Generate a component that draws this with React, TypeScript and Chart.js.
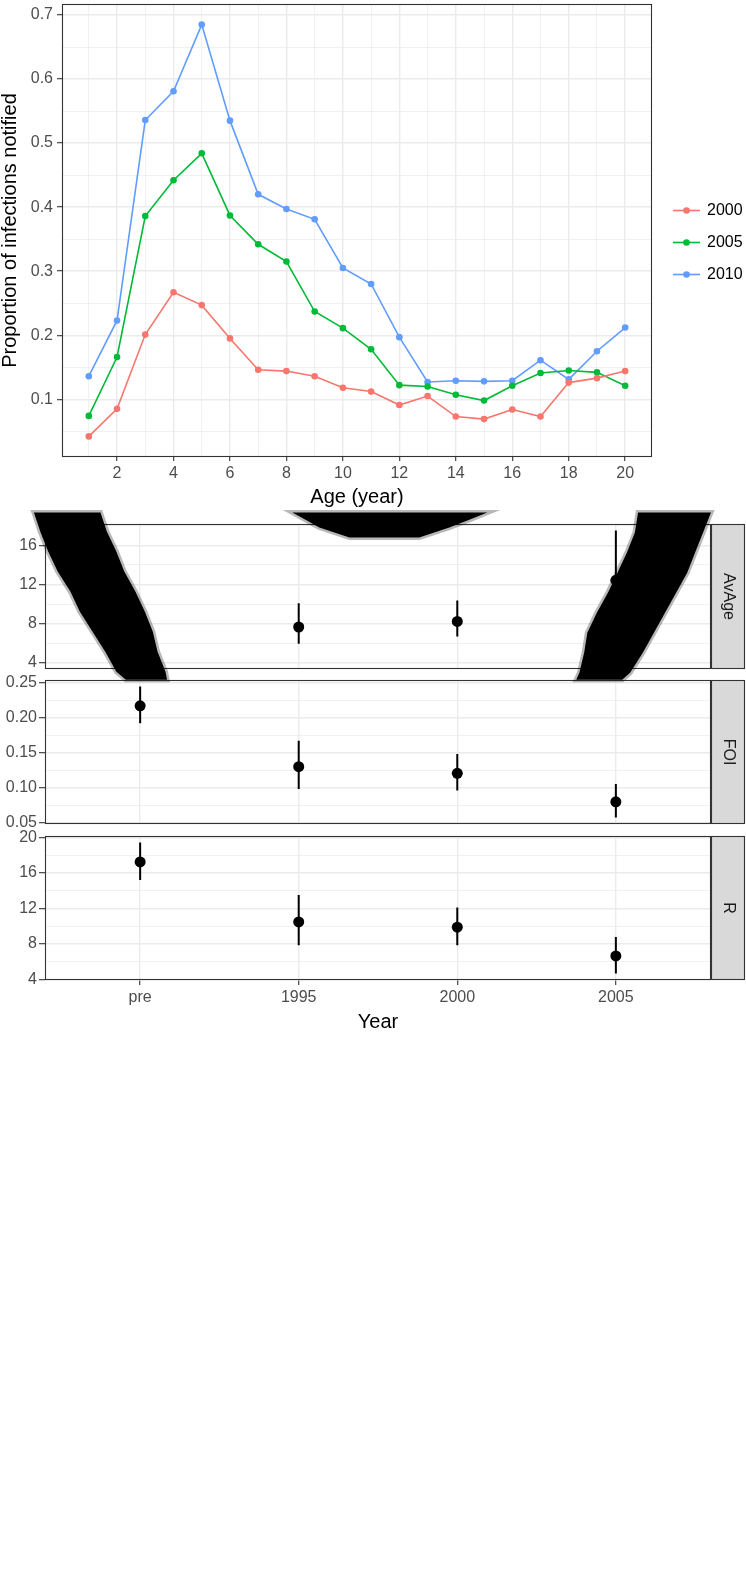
import React, { useEffect, useRef } from 'react';
import { Chart, registerables } from 'chart.js';

Chart.register(...registerables);

const FONT_FAMILY = '"Liberation Sans", Arial, Helvetica, sans-serif';
Chart.defaults.font.family = FONT_FAMILY;

// ---------------- Top panel data ----------------
const ages = [1, 2, 3, 4, 5, 6, 7, 8, 9, 10, 11, 12, 13, 14, 15, 16, 17, 18, 19, 20];
const notified2000 = [0.042, 0.085, 0.201, 0.267, 0.247, 0.195, 0.146, 0.144, 0.136, 0.118, 0.112, 0.091, 0.105, 0.073, 0.069, 0.084, 0.073, 0.126, 0.133, 0.144];
const notified2005 = [0.074, 0.166, 0.386, 0.442, 0.484, 0.387, 0.342, 0.315, 0.237, 0.211, 0.178, 0.122, 0.120, 0.107, 0.098, 0.121, 0.141, 0.145, 0.142, 0.121];
const notified2010 = [0.136, 0.223, 0.536, 0.581, 0.685, 0.535, 0.420, 0.397, 0.381, 0.305, 0.280, 0.197, 0.127, 0.129, 0.128, 0.129, 0.161, 0.131, 0.175, 0.212];
const seriesLabels = ['2000', '2005', '2010'];
const seriesColors = ['#F8766D', '#00BA38', '#619CFF'];
const ageMajorTicks = [2, 4, 6, 8, 10, 12, 14, 16, 18, 20];
const ageMinorTicks = [1, 3, 5, 7, 9, 11, 13, 15, 17, 19];
const propMajorTicks = [0.1, 0.2, 0.3, 0.4, 0.5, 0.6, 0.7];
const propMinorTicks = [0.05, 0.15, 0.25, 0.35, 0.45, 0.55, 0.65];

// ---------------- Facet data ----------------
const yearLabels = ['pre', '1995', '2000', '2005'];
const avAgeEst = [4.8, 7.67, 8.24, 12.43];
const avAgeLo = [4.06, 5.97, 6.71, 7.5];
const avAgeHi = [5.6, 10.1, 10.36, 17.5];
const foiEst = [0.2175, 0.1306, 0.1211, 0.0804];
const foiLo = [0.1924, 0.0985, 0.0966, 0.058];
const foiHi = [0.245, 0.1677, 0.1487, 0.1057];
const rEst = [17.22, 10.49, 9.89, 6.67];
const rLo = [15.19, 7.86, 7.86, 4.7];
const rHi = [19.4, 13.52, 12.11, 8.78];
const avAgeMajor = [4, 8, 12, 16];
const avAgeMinor = [2, 6, 10, 14, 18];
const foiMajor = [0.05, 0.1, 0.15, 0.2, 0.25];
const foiMinor = [0.075, 0.125, 0.175, 0.225];
const rMajor = [4, 8, 12, 16, 20];
const rMinor = [2, 6, 10, 14, 18];

// black artefact shapes over the AvAge panel (in AvAge panel data units)
const blobLeftX = [-0.67, -0.63, -0.58, -0.52, -0.44, -0.38, -0.30, -0.22, -0.15, -0.09, 0.17, 0.16, 0.11, 0.08, 0.03, -0.03, -0.10, -0.15, -0.21, -0.25];
const blobLeftY = [19.34, 17.40, 15.36, 13.32, 11.28, 9.23, 7.19, 5.15, 3.11, 2.30, 2.30, 3.11, 5.15, 7.19, 9.23, 11.28, 13.32, 15.36, 17.40, 19.34];
const blobRightX = [3.14, 3.12, 3.07, 3.01, 2.95, 2.88, 2.82, 2.80, 2.77, 2.75, 3.04, 3.09, 3.17, 3.24, 3.31, 3.38, 3.45, 3.50, 3.55, 3.60];
const blobRightY = [19.34, 17.30, 15.26, 13.21, 11.17, 9.13, 7.09, 5.05, 3.00, 2.30, 2.30, 3.00, 5.05, 7.09, 9.13, 11.17, 13.21, 15.26, 17.30, 19.34];
const blobTopX = [0.96, 2.19, 2.08, 1.95, 1.76, 1.32, 1.13, 1.04];
const blobTopY = [19.34, 19.34, 18.62, 17.81, 16.79, 16.79, 17.81, 18.62];

// ---------------- helpers ----------------
const near = (a: number, list: number[]) => list.some((m) => Math.abs(m - a) < 1e-9);
const padRange = (lo: number[], hi: number[], f = 0.05) => {
  const mn = Math.min(...lo);
  const mx = Math.max(...hi);
  const e = (mx - mn) * f;
  return { min: mn - e, max: mx + e };
};
const setTicks = (values: number[]) => (axis: any) => {
  axis.ticks = values
    .filter((v) => v >= axis.min && v <= axis.max)
    .sort((a, b) => a - b)
    .map((v) => ({ value: v }));
};
const zeroPad = (s: any) => {
  s.paddingLeft = 0;
  s.paddingRight = 0;
  s.paddingTop = 0;
  s.paddingBottom = 0;
};
const fixWidth = (w: number) => (s: any) => {
  s.width = w;
  zeroPad(s);
};
const fixHeight = (h: number) => (s: any) => {
  s.height = h;
  zeroPad(s);
};
const gridOpts = (majors: number[], tickLength: number, drawTicks = true) => ({
  display: true,
  drawOnChartArea: true,
  drawTicks,
  tickLength,
  color: '#ebebeb',
  lineWidth: (c: any) => (c.tick && near(c.tick.value, majors) ? 1.4 : 0.7),
  tickColor: (c: any) => (c.tick && near(c.tick.value, majors) ? '#333333' : 'rgba(0,0,0,0)'),
  tickWidth: 1.1,
});

const borderPlugin = {
  id: 'ggBorder',
  afterDatasetsDraw(chart: any) {
    const { ctx, chartArea } = chart;
    const l = Math.round(chartArea.left);
    const t = Math.round(chartArea.top);
    const r = Math.round(chartArea.right);
    const b = Math.round(chartArea.bottom);
    ctx.save();
    ctx.strokeStyle = '#333333';
    ctx.lineWidth = 1.1;
    ctx.strokeRect(l + 0.5, t + 0.5, r - l - 1, b - t - 1);
    ctx.restore();
  },
};

const legendPlugin = {
  id: 'ggLegend',
  afterDraw(chart: any) {
    const { ctx, chartArea } = chart;
    const ds = chart.data.datasets;
    const gap = 32;
    const cy = (chartArea.top + chartArea.bottom) / 2 + 12;
    const x0 = chartArea.right + 21;
    ctx.save();
    ds.forEach((d: any, i: number) => {
      const y = cy + (i - (ds.length - 1) / 2) * gap;
      ctx.strokeStyle = d.borderColor;
      ctx.lineWidth = 1.6;
      ctx.beginPath();
      ctx.moveTo(x0, y);
      ctx.lineTo(x0 + 27, y);
      ctx.stroke();
      ctx.fillStyle = d.borderColor;
      ctx.beginPath();
      ctx.arc(x0 + 13.5, y, 3.3, 0, Math.PI * 2);
      ctx.fill();
      ctx.fillStyle = '#000000';
      ctx.font = `16px ${FONT_FAMILY}`;
      ctx.textAlign = 'left';
      ctx.textBaseline = 'middle';
      ctx.fillText(d.label, x0 + 34, y);
    });
    ctx.restore();
  },
};

const makeStripPlugin = (label: string) => ({
  id: 'ggStrip',
  afterDraw(chart: any) {
    const { ctx, chartArea } = chart;
    const l = Math.round(chartArea.right);
    const t = Math.round(chartArea.top);
    const b = Math.round(chartArea.bottom);
    const w = 34;
    ctx.save();
    ctx.fillStyle = '#d9d9d9';
    ctx.fillRect(l, t, w, b - t);
    ctx.strokeStyle = '#333333';
    ctx.lineWidth = 1.1;
    ctx.strokeRect(l + 0.5, t + 0.5, w - 1, b - t - 1);
    ctx.translate(l + w / 2, (t + b) / 2);
    ctx.rotate(Math.PI / 2);
    ctx.fillStyle = '#1a1a1a';
    ctx.font = `16px ${FONT_FAMILY}`;
    ctx.textAlign = 'center';
    ctx.textBaseline = 'middle';
    ctx.fillText(label, 0, 0);
    ctx.restore();
  },
});

const blobPlugin = {
  id: 'ggBlob',
  afterDraw(chart: any) {
    const { ctx } = chart;
    chart.data.datasets.forEach((ds: any, i: number) => {
      if (!ds.ggBlob) return;
      const pts = chart.getDatasetMeta(i).data;
      ctx.save();
      ctx.beginPath();
      pts.forEach((p: any, j: number) => (j ? ctx.lineTo(p.x, p.y) : ctx.moveTo(p.x, p.y)));
      ctx.closePath();
      ctx.strokeStyle = 'rgba(0,0,0,0.28)';
      ctx.lineWidth = 5;
      ctx.lineJoin = 'miter';
      ctx.stroke();
      ctx.fillStyle = '#000000';
      ctx.fill();
      ctx.restore();
    });
  },
};

// ---------------- chart builders ----------------
function makeTop(canvas: HTMLCanvasElement) {
  const seriesValues = [notified2000, notified2005, notified2010];
  const all = seriesValues.flat();
  const yr = padRange(all, all);
  const xr = padRange(ages, ages);
  return new Chart(canvas, {
    type: 'line',
    data: {
      datasets: seriesValues.map((vals, k) => ({
        label: seriesLabels[k],
        data: ages.map((a, i) => ({ x: a, y: vals[i] })),
        borderColor: seriesColors[k],
        backgroundColor: seriesColors[k],
        pointBackgroundColor: seriesColors[k],
        borderWidth: 1.6,
        pointRadius: 3.3,
        pointBorderWidth: 0,
        tension: 0,
        fill: false,
      })),
    },
    options: {
      animation: false,
      responsive: false,
      events: [],
      layout: { padding: { top: 3, right: 94, bottom: 0, left: 0 } },
      plugins: { legend: { display: false }, tooltip: { enabled: false } },
      scales: {
        x: {
          type: 'linear',
          min: xr.min,
          max: xr.max,
          afterBuildTicks: setTicks([...ageMajorTicks, ...ageMinorTicks]),
          afterFit: fixHeight(53),
          grid: gridOpts(ageMajorTicks, 4),
          border: { display: false },
          ticks: {
            autoSkip: false,
            maxRotation: 0,
            minRotation: 0,
            padding: 3,
            color: '#4d4d4d',
            font: { size: 16 },
            callback: (v: any) => (near(Number(v), ageMajorTicks) ? String(v) : ''),
          },
          title: {
            display: true,
            text: 'Age (year)',
            color: '#000000',
            font: { size: 20, lineHeight: 1.2 },
            padding: { top: 0, bottom: 1 },
          },
        },
        y: {
          type: 'linear',
          min: yr.min,
          max: yr.max,
          afterBuildTicks: setTicks([...propMajorTicks, ...propMinorTicks]),
          afterFit: fixWidth(62),
          grid: gridOpts(propMajorTicks, 5),
          border: { display: false },
          ticks: {
            autoSkip: false,
            padding: 4,
            color: '#4d4d4d',
            font: { size: 16 },
            callback: (v: any) => (near(Number(v), propMajorTicks) ? Number(v).toFixed(1) : ''),
          },
          title: {
            display: true,
            text: 'Proportion of infections notified',
            color: '#000000',
            font: { size: 20, lineHeight: 1 },
            padding: { top: 0, bottom: 0 },
          },
        },
      },
    } as any,
    plugins: [borderPlugin, legendPlugin],
  });
}

interface FacetCfg {
  est: number[];
  lo: number[];
  hi: number[];
  majors: number[];
  minors: number[];
  fmt: (v: number) => string;
  strip: string;
  showX: boolean;
  padTop: number;
  padBottom: number;
  xHeight: number;
  blobs?: { xs: number[]; ys: number[] }[];
}

function makeFacet(canvas: HTMLCanvasElement, cfg: FacetCfg) {
  const yr = padRange(cfg.lo, cfg.hi);
  const pos = yearLabels.map((_, i) => i);
  const errData: any[] = [];
  pos.forEach((i) => {
    errData.push({ x: i, y: cfg.lo[i] });
    errData.push({ x: i, y: cfg.hi[i] });
    errData.push({ x: i, y: null });
  });
  const datasets: any[] = [
    {
      label: 'ci',
      data: errData,
      borderColor: '#000000',
      borderWidth: 2,
      pointRadius: 0,
      spanGaps: false,
      fill: false,
      borderCapStyle: 'butt',
    },
    {
      label: 'est',
      data: pos.map((i) => ({ x: i, y: cfg.est[i] })),
      showLine: false,
      pointRadius: 5.5,
      pointBorderWidth: 0,
      pointBackgroundColor: '#000000',
      borderColor: '#000000',
      backgroundColor: '#000000',
    },
  ];
  (cfg.blobs || []).forEach((b) => {
    datasets.push({
      label: 'artefact',
      data: b.xs.map((x, j) => ({ x, y: b.ys[j] })),
      showLine: false,
      pointRadius: 0,
      ggBlob: true,
    });
  });
  return new Chart(canvas, {
    type: 'line',
    data: { datasets },
    options: {
      animation: false,
      responsive: false,
      events: [],
      layout: { padding: { top: cfg.padTop, right: 35, bottom: cfg.padBottom, left: 0 } },
      plugins: { legend: { display: false }, tooltip: { enabled: false } },
      scales: {
        x: {
          type: 'linear',
          min: -0.6,
          max: yearLabels.length - 1 + 0.6,
          afterBuildTicks: setTicks(pos),
          afterFit: fixHeight(cfg.xHeight),
          grid: {
            color: '#ebebeb',
            lineWidth: 1.4,
            drawTicks: cfg.showX,
            tickLength: 5,
            tickColor: '#333333',
            tickWidth: 1.1,
          },
          border: { display: false },
          ticks: {
            display: cfg.showX,
            autoSkip: false,
            maxRotation: 0,
            minRotation: 0,
            padding: 3,
            color: '#4d4d4d',
            font: { size: 16 },
            callback: (v: any) => yearLabels[Math.round(Number(v))] ?? '',
          },
          title: {
            display: cfg.showX,
            text: 'Year',
            color: '#000000',
            font: { size: 20, lineHeight: 1.2 },
            padding: { top: 0, bottom: 4 },
          },
        },
        y: {
          type: 'linear',
          min: yr.min,
          max: yr.max,
          afterBuildTicks: setTicks([...cfg.majors, ...cfg.minors]),
          afterFit: fixWidth(45),
          grid: gridOpts(cfg.majors, 6),
          border: { display: false },
          ticks: {
            autoSkip: false,
            padding: 2,
            color: '#4d4d4d',
            font: { size: 16 },
            callback: (v: any) => (near(Number(v), cfg.majors) ? cfg.fmt(Number(v)) : ''),
          },
        },
      },
    } as any,
    plugins: [borderPlugin, makeStripPlugin(cfg.strip), blobPlugin],
  });
}

// ---------------- React ----------------
function ChartCanvas(props: { top: number; height: number; z: number; make: (c: HTMLCanvasElement) => Chart }) {
  const ref = useRef<HTMLCanvasElement>(null);
  useEffect(() => {
    const chart = props.make(ref.current as HTMLCanvasElement);
    return () => chart.destroy();
  }, []);
  return (
    <canvas
      ref={ref}
      width={746}
      height={props.height}
      style={{ position: 'absolute', left: 0, top: props.top, width: 746, height: props.height, zIndex: props.z }}
    />
  );
}

export default function App() {
  return (
    <div style={{ position: 'absolute', left: 0, top: 0, width: 746, height: 1577, background: '#ffffff', overflow: 'hidden' }}>
      <ChartCanvas top={0} height={510} z={1} make={(c) => makeTop(c)} />
      <ChartCanvas
        top={828}
        height={210}
        z={2}
        make={(c) =>
          makeFacet(c, {
            est: rEst, lo: rLo, hi: rHi, majors: rMajor, minors: rMinor,
            fmt: (v) => String(Math.round(v)), strip: 'R', showX: true,
            padTop: 8, padBottom: 0, xHeight: 58,
          })
        }
      />
      <ChartCanvas
        top={672}
        height={160}
        z={3}
        make={(c) =>
          makeFacet(c, {
            est: foiEst, lo: foiLo, hi: foiHi, majors: foiMajor, minors: foiMinor,
            fmt: (v) => v.toFixed(2), strip: 'FOI', showX: false,
            padTop: 8, padBottom: 8, xHeight: 0,
          })
        }
      />
      <ChartCanvas
        top={505}
        height={180}
        z={4}
        make={(c) =>
          makeFacet(c, {
            est: avAgeEst, lo: avAgeLo, hi: avAgeHi, majors: avAgeMajor, minors: avAgeMinor,
            fmt: (v) => String(Math.round(v)), strip: 'AvAge', showX: false,
            padTop: 19, padBottom: 16, xHeight: 0,
            blobs: [
              { xs: blobLeftX, ys: blobLeftY },
              { xs: blobTopX, ys: blobTopY },
              { xs: blobRightX, ys: blobRightY },
            ],
          })
        }
      />
    </div>
  );
}
